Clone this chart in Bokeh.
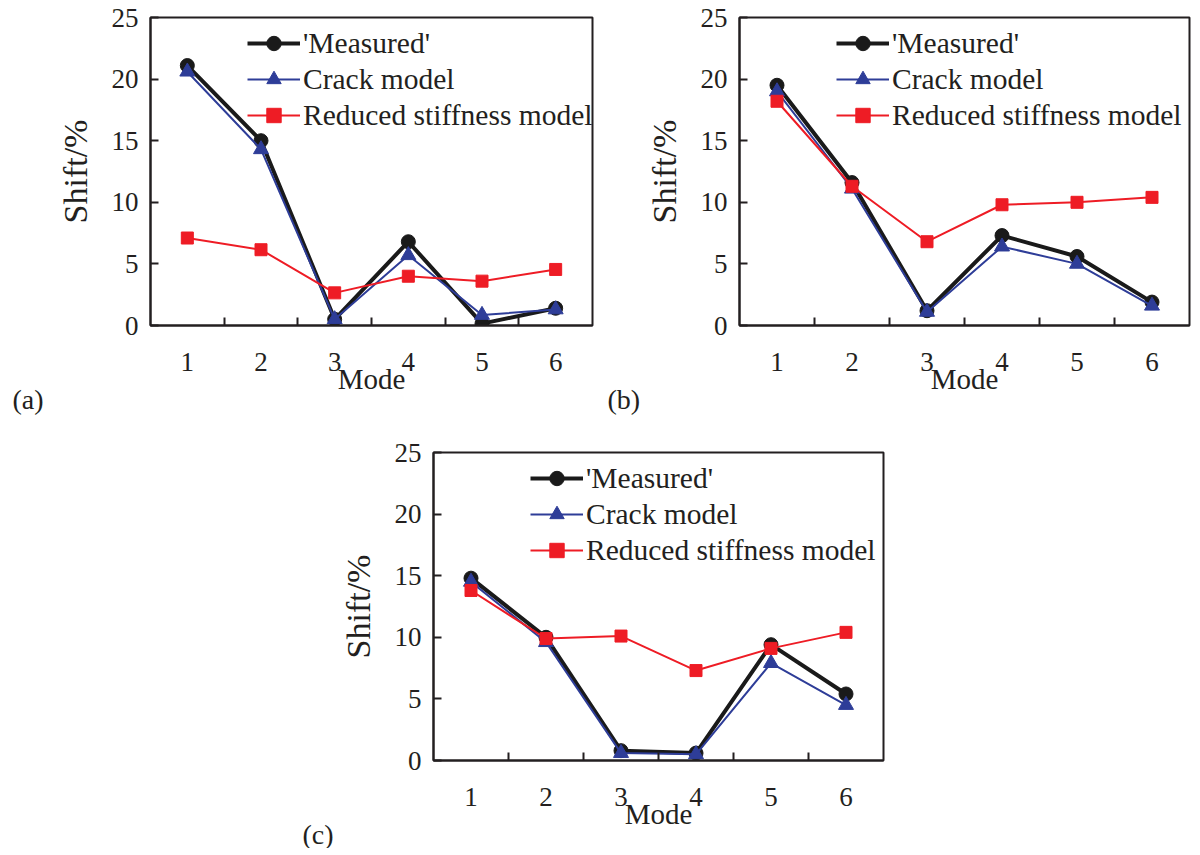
from bokeh.plotting import figure
from bokeh.models import (ColumnDataSource, FixedTicker, Legend, LegendItem, Title, Spacer)
from bokeh.layouts import column, row
from bokeh.embed import file_html
from bokeh.resources import INLINE

modes = [1, 2, 3, 4, 5, 6]
y_ticks = [0, 5, 10, 15, 20, 25]
series_names = ["'Measured'", "Crack model", "Reduced stiffness model"]

a_measured = [21.1, 15.0, 0.5, 6.8, 0.15, 1.4]
a_crack = [20.6, 14.3, 0.5, 5.7, 0.85, 1.3]
a_reduced = [7.1, 6.15, 2.65, 4.0, 3.6, 4.55]

b_measured = [19.5, 11.6, 1.2, 7.3, 5.6, 1.9]
b_crack = [19.0, 11.1, 1.1, 6.4, 5.0, 1.6]
b_reduced = [18.2, 11.3, 6.8, 9.8, 10.0, 10.4]

c_measured = [14.8, 10.0, 0.8, 0.6, 9.4, 5.4]
c_crack = [14.5, 9.6, 0.6, 0.5, 7.9, 4.5]
c_reduced = [13.8, 9.9, 10.1, 7.3, 9.1, 10.4]

FONT = "Liberation Serif"
INK = "#231f20"
BLACK = "#1a1a1a"
BLUE = "#2e3d98"
RED = "#ee1c25"


def make_panel(tag, tag_x, measured, crack, reduced, frame_w, left, top, right, bottom):
    p = figure(frame_width=frame_w, frame_height=308,
               min_border_left=left, min_border_top=top,
               min_border_right=right, min_border_bottom=bottom,
               x_range=(0.5, 6.5), y_range=(0, 25),
               output_backend="svg", toolbar_location=None)
    p.background_fill_color = None
    p.border_fill_color = None
    p.grid.visible = False
    p.outline_line_color = INK
    p.outline_line_width = 2

    # x axis: labels at modes, tick marks between categories
    xa = p.xaxis[0]
    xa.ticker = FixedTicker(ticks=modes, minor_ticks=[m + 0.5 for m in modes[:-1]])
    xa.major_tick_in = 0
    xa.major_tick_out = 0
    xa.minor_tick_in = 8
    xa.minor_tick_out = 0
    xa.minor_tick_line_color = INK
    xa.minor_tick_line_width = 2
    xa.axis_line_color = INK
    xa.axis_line_width = 2
    xa.major_label_standoff = 27
    xa.major_label_text_font = FONT
    xa.major_label_text_font_size = "27px"
    xa.major_label_text_color = INK
    xa.axis_label = "Mode"
    xa.axis_label_text_font = FONT
    xa.axis_label_text_font_size = "29px"
    xa.axis_label_text_font_style = "normal"
    xa.axis_label_text_color = INK
    xa.axis_label_standoff = -11

    ya = p.yaxis[0]
    ya.ticker = FixedTicker(ticks=y_ticks, minor_ticks=[])
    ya.major_tick_in = 8
    ya.major_tick_out = 0
    ya.major_tick_line_color = INK
    ya.major_tick_line_width = 2
    ya.axis_line_color = INK
    ya.axis_line_width = 2
    ya.major_label_standoff = 12
    ya.major_label_text_font = FONT
    ya.major_label_text_font_size = "27px"
    ya.major_label_text_color = INK
    ya.axis_label = "Shift/%"
    ya.axis_label_text_font = FONT
    ya.axis_label_text_font_size = "34px"
    ya.axis_label_text_font_style = "normal"
    ya.axis_label_text_color = INK
    ya.axis_label_standoff = 15

    src = ColumnDataSource(dict(mode=modes, m=measured, c=crack, r=reduced))
    lm = p.line("mode", "m", source=src, line_color=BLACK, line_width=4)
    sm = p.scatter("mode", "m", source=src, marker="circle", size=14,
                   fill_color=BLACK, line_color=BLACK)
    lc = p.line("mode", "c", source=src, line_color=BLUE, line_width=2)
    sc = p.scatter("mode", "c", source=src, marker="triangle", size=15,
                   fill_color=BLUE, line_color=BLUE)
    lr = p.line("mode", "r", source=src, line_color=RED, line_width=2)
    sr = p.scatter("mode", "r", source=src, marker="square", size=12,
                   fill_color=RED, line_color=RED)

    legend = Legend(items=[LegendItem(label=series_names[0], renderers=[lm, sm]),
                           LegendItem(label=series_names[1], renderers=[lc, sc]),
                           LegendItem(label=series_names[2], renderers=[lr, sr])],
                    location=(97, 192))
    legend.background_fill_alpha = 0
    legend.border_line_alpha = 0
    legend.padding = 0
    legend.margin = 0
    legend.spacing = 0
    legend.glyph_width = 53
    legend.glyph_height = 36
    legend.label_height = 36
    legend.label_standoff = 3
    legend.label_text_font = FONT
    legend.label_text_font_size = "29.5px"
    legend.label_text_color = INK
    p.add_layout(legend)

    t = Title(text=tag, align="left", offset=tag_x, standoff=-34,
              text_font=FONT, text_font_size="28px", text_font_style="normal",
              text_color=INK)
    p.add_layout(t, "below")
    return p


pa = make_panel("(a)", -138, a_measured, a_crack, a_reduced, 442, 150, 17, 8, 95)
pb = make_panel("(b)", -132, b_measured, b_crack, b_reduced, 450, 139, 17, 3, 95)
pc = make_panel("(c)", -131, c_measured, c_crack, c_reduced, 450, 133, 32, 20, 88)

layout = column(row(pa, pb), row(Spacer(width=300, height=10), pc))
open("out.html", "w").write(file_html(layout, INLINE))
